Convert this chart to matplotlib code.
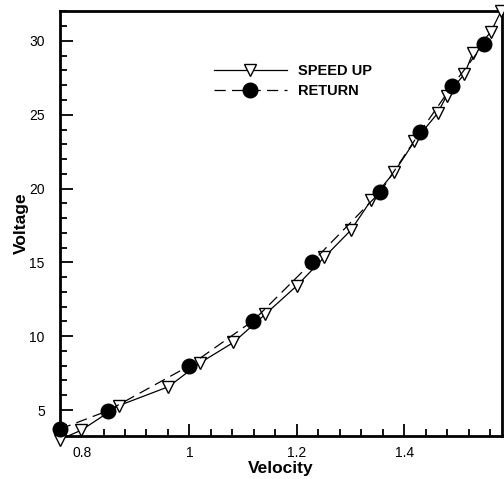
import matplotlib
matplotlib.use("Agg")
import matplotlib.pyplot as plt
from matplotlib.ticker import MultipleLocator, FuncFormatter

plt.rcParams['font.family'] = ['Liberation Sans', 'DejaVu Sans']

speedup_v = [0.759, 0.799, 0.868, 0.961, 1.020, 1.082, 1.141, 1.200, 1.251, 1.301,
             1.338, 1.381, 1.419, 1.462, 1.479, 1.512, 1.528, 1.561, 1.580]
speedup_u = [3.0, 3.64, 5.29, 6.58, 8.2, 9.58, 11.48, 13.42, 15.34, 17.2,
             19.2, 21.1, 23.2, 25.1, 26.3, 27.76, 29.2, 30.6, 32.0]

return_v = [0.759, 0.848, 1.000, 1.119, 1.229, 1.355, 1.430, 1.489, 1.548]
return_u = [3.71, 4.95, 8.0, 11.06, 15.04, 19.75, 23.86, 26.95, 29.78]

xticks = [0.8, 1.0, 1.2, 1.4]
yticks = [5, 10, 15, 20, 25, 30]

fig = plt.figure(figsize=(5.04, 4.79), dpi=100)
ax = fig.add_axes([60/504, 1-436/479, 442/504, 425/479])

ax.plot(speedup_v, speedup_u, color='black', lw=0.9, marker='v', markersize=9,
        markerfacecolor='white', markeredgecolor='black', markeredgewidth=1.0,
        label='SPEED UP', clip_on=False, zorder=3)
ax.plot(return_v, return_u, color='black', lw=0.9, linestyle=(0, (9, 5)), marker='o',
        markersize=10.5, markerfacecolor='black', markeredgecolor='black',
        label='RETURN', clip_on=False, zorder=4)

ax.set_xlim(0.759, 1.582)
ax.set_ylim(3.24, 32.03)
ax.set_xticks(xticks)
ax.set_yticks(yticks)
ax.xaxis.set_minor_locator(MultipleLocator(0.04))
ax.yaxis.set_minor_locator(MultipleLocator(1))
ax.xaxis.set_major_formatter(FuncFormatter(lambda v, p: ('%g' % round(v, 2))))

ax.tick_params(which='both', direction='in', top=False, right=False, labelsize=10, width=1.3)
ax.tick_params(axis='x', which='major', pad=7)
ax.tick_params(axis='y', which='major', pad=11)
ax.tick_params(which='major', length=9)
ax.tick_params(which='minor', length=5)
for s in ax.spines.values():
    s.set_linewidth(2)

ax.set_xlabel('Velocity', fontsize=12.5, fontweight='bold', labelpad=1)
ax.set_ylabel('Voltage', fontsize=12.5, fontweight='bold', labelpad=0)

leg = ax.legend(loc='center left', bbox_to_anchor=((214-60)/442, (436-81)/425),
                frameon=False, handlelength=5, handletextpad=0.75, borderpad=0,
                borderaxespad=0, labelspacing=0.45,
                prop={'weight': 'bold', 'size': 10.5})

fig.savefig('out.png', dpi=100)
